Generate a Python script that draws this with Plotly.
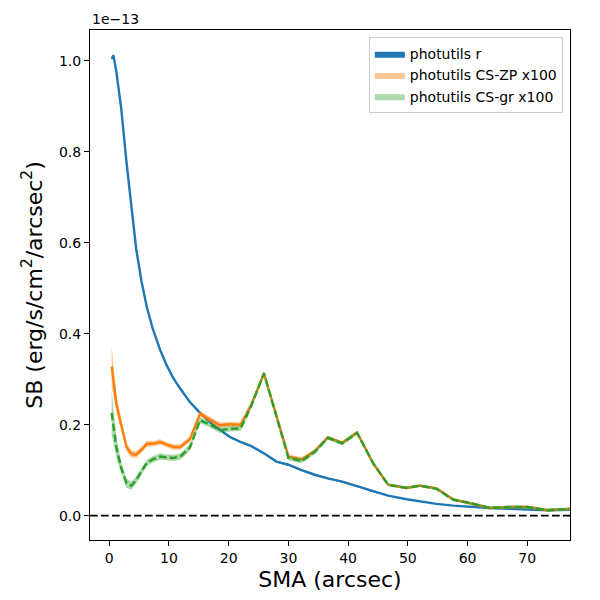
import plotly.graph_objects as go

# Surface brightness profiles, y in units of 1e-13 erg/s/cm^2/arcsec^2
sma_r = [0.4, 0.7, 1.2, 2.0, 2.9, 3.7, 4.5, 5.4, 6.3, 7.3, 8.5, 9.6, 10.7, 11.9,
         13.5, 15.2, 16.9, 18.5, 20.2, 22.0, 23.8, 25.9, 28.0, 30.0, 32.2, 34.4,
         36.6, 39.0, 41.5, 44.2, 46.7, 49.8, 52.0, 54.8, 57.6, 60.4, 63.7, 67.0,
         70.1, 73.4, 77.1]
sb_r = [1.005, 1.012, 0.975, 0.895, 0.775, 0.675, 0.587, 0.515, 0.458, 0.410,
        0.365, 0.331, 0.303, 0.279, 0.250, 0.226, 0.205, 0.189, 0.173, 0.162,
        0.153, 0.137, 0.119, 0.112, 0.100, 0.090, 0.082, 0.075, 0.065, 0.053,
        0.044, 0.036, 0.031, 0.026, 0.022, 0.019, 0.017, 0.015, 0.013, 0.012,
        0.013]
err_r = [0.004, 0.004, 0.003, 0.003, 0.003, 0.002, 0.002, 0.002, 0.002, 0.002,
         0.002, 0.002, 0.002, 0.002, 0.002, 0.002, 0.002, 0.002, 0.002, 0.002,
         0.002, 0.002, 0.002, 0.002, 0.002, 0.002, 0.002, 0.002, 0.002, 0.002,
         0.001, 0.001, 0.001, 0.001, 0.001, 0.001, 0.001, 0.001, 0.001, 0.001,
         0.001]

sma_cs = [0.4, 1.2, 2.0, 2.9, 3.7, 4.5, 5.4, 6.3, 7.3, 8.5, 9.6, 10.7, 11.9,
          13.5, 15.2, 16.9, 18.5, 20.2, 22.0, 23.8, 25.9, 28.0, 30.0, 32.2, 34.4,
          36.6, 39.0, 41.5, 44.2, 46.7, 49.8, 52.0, 54.8, 57.6, 60.4, 63.7, 67.0,
          70.1, 73.4, 77.1]
sb_zp = [0.328, 0.245, 0.200, 0.150, 0.136, 0.134, 0.145, 0.158, 0.158, 0.162,
         0.156, 0.151, 0.151, 0.168, 0.224, 0.212, 0.199, 0.201, 0.200, 0.245,
         0.313, 0.220, 0.130, 0.124, 0.142, 0.172, 0.160, 0.183, 0.115, 0.068,
         0.061, 0.066, 0.060, 0.036, 0.028, 0.017, 0.019, 0.019, 0.012, 0.015]
err_zp = [0.044, 0.020, 0.012, 0.009, 0.008, 0.007, 0.007, 0.006, 0.006, 0.006,
          0.006, 0.006, 0.006, 0.006, 0.006, 0.006, 0.006, 0.005, 0.005, 0.005,
          0.005, 0.005, 0.005, 0.004, 0.004, 0.004, 0.004, 0.004, 0.004, 0.003,
          0.003, 0.003, 0.003, 0.003, 0.003, 0.003, 0.003, 0.003, 0.003, 0.003]
sb_gr = [0.226, 0.150, 0.105, 0.071, 0.066, 0.078, 0.098, 0.116, 0.124, 0.130,
         0.128, 0.127, 0.130, 0.150, 0.210, 0.200, 0.188, 0.191, 0.192, 0.242,
         0.313, 0.218, 0.127, 0.120, 0.140, 0.171, 0.159, 0.182, 0.115, 0.068,
         0.061, 0.066, 0.059, 0.035, 0.028, 0.017, 0.019, 0.019, 0.012, 0.015]
err_gr = [0.048, 0.022, 0.013, 0.010, 0.009, 0.008, 0.008, 0.007, 0.007, 0.007,
          0.007, 0.007, 0.007, 0.007, 0.007, 0.006, 0.006, 0.006, 0.006, 0.006,
          0.006, 0.005, 0.005, 0.005, 0.005, 0.004, 0.004, 0.004, 0.004, 0.003,
          0.003, 0.003, 0.003, 0.003, 0.003, 0.003, 0.003, 0.003, 0.003, 0.003]

names = ["photutils r", "photutils CS-ZP x100", "photutils CS-gr x100"]
y_ticks = [0.0, 0.2, 0.4, 0.6, 0.8, 1.0]
x_ticks = [0, 10, 20, 30, 40, 50, 60, 70]

BLUE = "#1f77b4"
ORANGE = "#ff7f0e"
GREEN = "#2ca02c"
FONT = "DejaVu Sans"


def band(x, y, e):
    up = [a + b for a, b in zip(y, e)]
    lo = [a - b for a, b in zip(y, e)]
    return list(x) + list(x)[::-1], up + lo[::-1]


fig = go.Figure()

series = [
    (sma_r, sb_r, err_r, BLUE, "rgba(31,119,180,1.0)", "solid", names[0]),
    (sma_cs, sb_zp, err_zp, ORANGE, "rgba(255,127,14,0.45)", "solid", names[1]),
    (sma_cs, sb_gr, err_gr, GREEN, "rgba(44,160,44,0.40)", "7.5px,3.3px", names[2]),
]

for x, y, e, col, fcol, dash, nm in series:
    bx, by = band(x, y, e)
    fig.add_trace(go.Scatter(x=bx, y=by, fill="toself", fillcolor=fcol,
                             line=dict(width=0), mode="lines", name=nm,
                             hoverinfo="skip", showlegend=True))
    fig.add_trace(go.Scatter(x=x, y=y, mode="lines",
                             line=dict(color=col, width=2.4, dash=dash),
                             showlegend=False))

fig.add_shape(type="line", xref="paper", x0=0, x1=1, yref="y", y0=0, y1=0,
              line=dict(color="black", width=1.8, dash="7.7px,3.3px"))

fig.add_annotation(text="1e\u221213", xref="paper", yref="paper", x=0, y=1,
                   xanchor="left", yanchor="bottom", showarrow=False,
                   font=dict(family=FONT, size=14, color="black"), yshift=1)

axis_common = dict(showline=True, linecolor="black", linewidth=1.1, mirror=True,
                   ticks="outside", ticklen=5, tickwidth=1.1, tickcolor="black",
                   showgrid=False, zeroline=False, automargin=False,
                   tickfont=dict(family=FONT, size=14, color="black"))

fig.update_xaxes(range=[-3.23, 77.16], tickvals=x_ticks,
                 title=dict(text="SMA (arcsec)", standoff=6,
                            font=dict(family=FONT, size=22, color="black")),
                 **axis_common)
fig.update_yaxes(range=[-0.0535, 1.068], tickvals=y_ticks, tickformat=".1f",
                 title=dict(text="SB (erg/s/cm<sup>2</sup>/arcsec<sup>2</sup>)",
                            standoff=10,
                            font=dict(family=FONT, size=22, color="black")),
                 **axis_common)

fig.update_layout(
    width=600, height=600,
    margin=dict(l=82, r=38, t=22, b=68),
    paper_bgcolor="white", plot_bgcolor="white",
    font=dict(family=FONT, color="black"),
    legend=dict(x=0.985, y=0.986, xanchor="right", yanchor="top",
                bgcolor="rgba(255,255,255,0.8)", bordercolor="#cccccc",
                borderwidth=1, font=dict(family=FONT, size=14, color="black"),
                tracegroupgap=0),
    showlegend=True,
)

fig.write_html("out.html")
